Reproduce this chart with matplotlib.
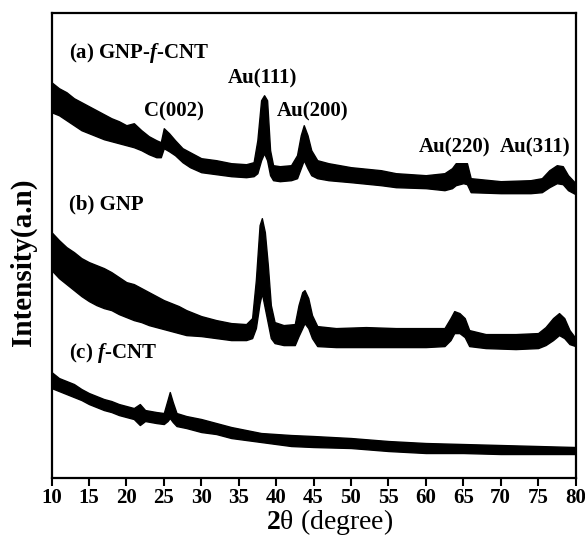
import matplotlib
matplotlib.use('Agg')
import matplotlib.pyplot as plt
import numpy as np

plt.rcParams['font.family'] = ['Liberation Serif', 'DejaVu Serif']
plt.rcParams['mathtext.fontset'] = 'custom'
plt.rcParams['mathtext.rm'] = 'Liberation Serif:bold'
plt.rcParams['mathtext.it'] = 'Liberation Serif:style=italic:weight=bold'
plt.rcParams['mathtext.bf'] = 'Liberation Serif:bold'

deg_a = [10.0, 11.0, 12.0, 13.0, 14.0, 15.0, 16.0, 17.0, 18.0, 19.0, 20.0, 21.0, 22.0, 23.0,
         24.0, 24.6, 25.0, 25.7, 26.5, 27.5, 28.5, 30.0, 32.0, 34.0, 36.0, 37.0, 37.5, 38.0,
         38.4, 38.8, 39.2, 39.6, 40.5, 42.0, 42.8, 43.3, 43.7, 44.2, 44.7, 45.5, 47.0, 50.0,
         54.0, 56.0, 60.0, 62.5, 63.5, 64.0, 65.0, 65.5, 66.0, 70.0, 74.0, 75.5, 76.5, 77.5,
         78.3, 79.0, 80.0]
hi_a = [396, 390, 386, 380, 376, 372, 368, 364, 360, 357, 353, 355, 348, 342,
        338, 336, 350, 345, 338, 330, 326, 320, 318, 315, 314, 316, 338, 378,
        383, 378, 328, 313, 312, 313, 323, 343, 353, 343, 328, 318, 315, 311,
        308, 305, 303, 305, 310, 315, 315, 315, 300, 297, 298, 300, 308, 313,
        312, 303, 295]
lo_a = [366, 363, 358, 353, 348, 345, 342, 339, 337, 335, 333, 331, 328, 324,
        321, 321, 330, 327, 323, 316, 311, 306, 304, 302, 301, 302, 305, 318,
        325, 318, 303, 298, 297, 298, 300, 310, 318, 310, 303, 300, 298, 296,
        293, 291, 290, 288, 290, 293, 295, 294, 286, 285, 285, 286, 291, 295,
        294, 288, 284]

deg_b = [10.0, 11.0, 12.0, 13.0, 14.0, 15.0, 16.0, 17.0, 18.0, 19.0, 20.0, 21.0, 22.0, 23.0,
         24.0, 25.0, 26.0, 27.0, 28.0, 30.0, 32.0, 34.0, 36.0, 36.8, 37.3, 37.8, 38.1, 38.5,
         38.9, 39.3, 39.8, 41.0, 42.5, 43.0, 43.5, 43.8, 44.3, 44.8, 45.5, 48.0, 52.0, 56.0,
         60.0, 62.5, 63.3, 63.8, 64.5, 65.2, 65.8, 68.0, 72.0, 75.0, 76.0, 77.0, 77.8, 78.5,
         79.2, 80.0]
hi_b = [246, 238, 231, 226, 220, 216, 213, 210, 206, 201, 196, 194, 190, 186,
        182, 178, 175, 172, 168, 162, 158, 155, 154, 160, 198, 253, 260, 246,
        213, 173, 156, 153, 154, 173, 186, 188, 180, 163, 152, 150, 151, 150,
        150, 150, 160, 167, 165, 160, 148, 144, 144, 145, 151, 160, 165, 160,
        148, 140]
lo_b = [208, 200, 194, 188, 182, 177, 173, 170, 168, 164, 161, 158, 156, 153,
        151, 149, 147, 145, 143, 142, 140, 138, 138, 140, 150, 175, 185, 170,
        155, 140, 135, 133, 133, 142, 150, 155, 150, 140, 132, 131, 131, 131,
        131, 132, 138, 145, 145, 141, 132, 130, 129, 130, 133, 138, 143, 140,
        134, 132]

deg_c = [10.0, 11.0, 12.0, 13.0, 14.0, 15.0, 16.0, 17.0, 18.0, 19.0, 20.0, 21.0, 21.8, 22.5,
         24.0, 25.0, 25.5, 25.8, 26.2, 26.7, 28.0, 30.0, 32.0, 34.0, 36.0, 38.0, 40.0, 42.0,
         45.0, 50.0, 55.0, 60.0, 65.0, 70.0, 75.0, 80.0]
hi_c = [106, 100, 97, 94, 89, 85, 82, 79, 77, 74, 72, 70, 74, 68,
        66, 65, 78, 86, 76, 65, 62, 59, 55, 51, 48, 45, 44, 43,
        42, 40, 37, 35, 34, 33, 32, 31]
lo_c = [90, 87, 84, 81, 78, 74, 71, 68, 66, 63, 61, 59, 53, 57,
        55, 54, 57, 60, 56, 52, 50, 46, 44, 40, 38, 36, 34, 32,
        31, 30, 27, 25, 25, 24, 24, 24]

xticks = list(range(10, 81, 5))

# peak / sample labels: (text, x in degrees, y in a.u., alignment)
labels = [(r'(a) GNP-$f$-CNT', 12.3, 425, 'left'),
          ('Au(111)', 38.2, 400, 'center'),
          ('C(002)', 26.4, 367, 'center'),
          ('Au(200)', 44.9, 367, 'center'),
          ('Au(220)', 63.9, 331, 'center'),
          ('Au(311)', 74.6, 331, 'center'),
          ('(b) GNP', 12.3, 274, 'left'),
          (r'(c) $f$-CNT', 12.3, 125, 'left')]

fig = plt.figure(figsize=(5.85, 5.44), dpi=100)
ax = fig.add_axes([51.5 / 585, 66.5 / 544, 524.0 / 585, 464.5 / 544])

for d, hi, lo in [(deg_a, hi_a, lo_a), (deg_b, hi_b, lo_b), (deg_c, hi_c, lo_c)]:
    ax.fill_between(d, lo, hi, color='black', linewidth=1.0, edgecolor='black')

for txt, x, y, ha in labels:
    ax.text(x, y, txt, ha=ha, va='center', fontsize=15, fontweight='bold')

ax.set_xlim(10, 80)
ax.set_ylim(0.5, 465.3)
ax.set_xticks(xticks)
ax.set_xticklabels([str(t) for t in xticks], fontweight='bold')
ax.set_yticks([])
ax.tick_params(axis='x', direction='out', length=5.5, width=1.5, labelsize=15, pad=2.0)
for sp in ax.spines.values():
    sp.set_linewidth(1.6)

fig.text(23 / 585, 1 - 262 / 544, 'Intensity(a.n)', rotation=90, ha='center', va='center',
         fontsize=21, fontweight='bold')
fig.text(330 / 585, 1 - 522 / 544, r'$\mathbf{2}$θ (degree)', ha='center', va='center', fontsize=20)

fig.savefig('out.png', dpi=100)
